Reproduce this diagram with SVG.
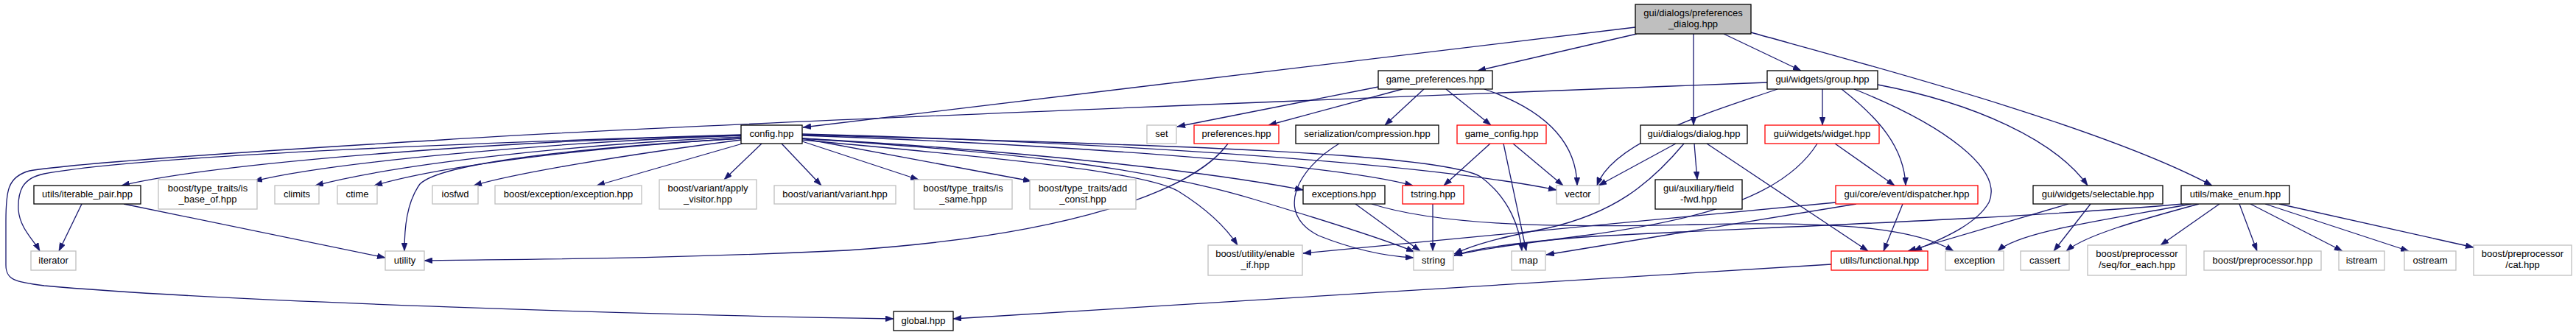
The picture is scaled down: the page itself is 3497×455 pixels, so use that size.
<svg xmlns="http://www.w3.org/2000/svg" width="3497" height="455" viewBox="0 0 3497 455">
<style>
.n rect{fill:#fff;stroke-width:1.3}
.b rect{stroke:#000}
.g rect{stroke:#bfbfbf}
.r rect{stroke:#ff0000}
.root rect{fill:#bfbfbf;stroke:#000}
text{font-family:"Liberation Sans",Arial,Helvetica,sans-serif;font-size:13px;fill:#000;text-anchor:middle}
#edges path{fill:none;stroke:#191970;stroke-width:1.3;marker-end:url(#ah)}
</style>
<defs>
<marker id="ah" viewBox="0 0 11 8" refX="11" refY="4" markerWidth="11" markerHeight="8" markerUnits="userSpaceOnUse" orient="auto"><path d="M0,0 L11,4 L0,8 z" fill="#191970" stroke="#191970" stroke-width="0.5"/></marker>
</defs>
<rect width="3497" height="455" fill="#fff"/>
<g id="edges">
<path d="M2220,37 L1090,173"/>
<path d="M2222,46 L2006,96"/>
<path d="M2299,46 L2299,170"/>
<path d="M2340,46 L2445,96"/>
<path d="M2377,44 C2520,84 2850,170 3003,252"/>
<path d="M1871,118 L1598,172"/>
<path d="M1904,121 L1722,170"/>
<path d="M1933,121 L1880,170"/>
<path d="M1963,121 L2024,170"/>
<path d="M2015,121 C2085,145 2140,185 2141,252"/>
<path d="M2399,112 C1800,135 900,170 600,190 C300,208 100,222 40,232 C10,240 8,260 8,300 L8,360 C8,380 20,383 60,388 C300,410 900,428 1213,433"/>
<path d="M1006,183 C700,192 200,210 60,236 C30,242 24,260 25,285 C27,310 45,325 54,341"/>
<path d="M2413,121 C2330,150 2190,190 2168,252"/>
<path d="M2474,121 L2474,170"/>
<path d="M2500,121 C2550,160 2585,200 2587,252"/>
<path d="M2517,121 C2640,170 2720,230 2700,275 C2680,310 2620,330 2598,341"/>
<path d="M2549,115 C2680,140 2790,190 2834,252"/>
<path d="M2275,195 L2170,252"/>
<path d="M2300,195 L2304,244"/>
<path d="M2317,195 L2536,341"/>
<path d="M2286,195 C2240,250 2190,290 2100,310 C2040,322 2000,332 1974,345"/>
<path d="M1034,195 L983,244"/>
<path d="M1061,195 L1115,252"/>
<path d="M1089,192 L1247,244"/>
<path d="M1089,188 L1400,246"/>
<path d="M1008,195 L810,252"/>
<path d="M1006,190 C850,210 700,235 643,252"/>
<path d="M1006,188 C800,200 600,225 508,252"/>
<path d="M1006,186 C800,195 550,220 428,252"/>
<path d="M1006,184 C750,193 450,220 345,246"/>
<path d="M1006,184 C700,190 300,220 165,252"/>
<path d="M1006,188 C800,200 600,220 570,250 C552,275 549,310 549,341"/>
<path d="M1089,182 C1400,190 1900,215 2113,258"/>
<path d="M1089,184 C1400,195 1800,220 1918,252"/>
<path d="M1089,183 C1500,195 1950,205 2010,240 C2050,270 2063,310 2066,341"/>
<path d="M1089,188 C1400,205 1650,235 1769,258"/>
<path d="M1089,188 C1350,205 1550,225 1700,270 C1800,300 1880,325 1920,342"/>
<path d="M1089,190 C1300,210 1550,230 1600,260 C1640,285 1665,310 1680,333"/>
<path d="M111,277 L80,341"/>
<path d="M168,277 L523,350"/>
<path d="M1667,195 C1620,260 1450,320 1150,340 C900,352 700,352 576,354"/>
<path d="M1818,195 C1760,230 1730,290 1790,320 C1840,340 1880,348 1919,350"/>
<path d="M1840,277 L1928,341"/>
<path d="M1862,277 C1950,305 2100,310 2300,305 C2500,300 2600,310 2652,341"/>
<path d="M1945,277 L1945,341"/>
<path d="M2023,195 L1960,252"/>
<path d="M2054,195 L2122,252"/>
<path d="M2041,195 L2072,341"/>
<path d="M2491,195 L2572,252"/>
<path d="M2467,195 C2420,270 2300,300 2150,320 C2050,333 2000,340 1974,347"/>
<path d="M2492,275 L1769,344"/>
<path d="M2520,277 L2099,346"/>
<path d="M2583,277 L2557,341"/>
<path d="M2808,277 L2590,341"/>
<path d="M2838,277 L2788,341"/>
<path d="M2486,359 L1294,433"/>
<path d="M2975,277 C2850,300 2740,315 2712,341"/>
<path d="M2985,277 C2900,300 2830,320 2805,341"/>
<path d="M3013,277 L2933,333"/>
<path d="M3040,277 L3064,341"/>
<path d="M3055,277 L3180,341"/>
<path d="M3075,277 L3270,341"/>
<path d="M3094,277 L3358,336"/>
<path d="M2964,277 C2700,300 2300,312 2150,322 C2050,330 2000,338 1974,347"/>
</g>
<g id="n_root" class="n root"><rect x="2220" y="6" width="157" height="40"/><text x="2298.5" y="22">gui/dialogs/preferences</text><text x="2298.5" y="37">_dialog.hpp</text></g>
<g id="n_game_preferences" class="n b"><rect x="1871" y="96" width="155" height="25"/><text x="1948.5" y="112">game_preferences.hpp</text></g>
<g id="n_group" class="n b"><rect x="2399" y="96" width="150" height="25"/><text x="2474" y="112">gui/widgets/group.hpp</text></g>
<g id="n_config" class="n b"><rect x="1006" y="170" width="83" height="25"/><text x="1047.5" y="186">config.hpp</text></g>
<g id="n_set" class="n g"><rect x="1557" y="170" width="40" height="25"/><text x="1577" y="186">set</text></g>
<g id="n_preferences" class="n r"><rect x="1621" y="170" width="115" height="25"/><text x="1678.5" y="186">preferences.hpp</text></g>
<g id="n_compression" class="n b"><rect x="1759" y="170" width="194" height="25"/><text x="1856" y="186">serialization/compression.hpp</text></g>
<g id="n_game_config" class="n r"><rect x="1978" y="170" width="121" height="25"/><text x="2038.5" y="186">game_config.hpp</text></g>
<g id="n_dialog" class="n b"><rect x="2227" y="170" width="145" height="25"/><text x="2299.5" y="186">gui/dialogs/dialog.hpp</text></g>
<g id="n_widget" class="n r"><rect x="2396" y="170" width="155" height="25"/><text x="2473.5" y="186">gui/widgets/widget.hpp</text></g>
<g id="n_iterable_pair" class="n b"><rect x="46" y="252" width="145" height="25"/><text x="118.5" y="268">utils/iterable_pair.hpp</text></g>
<g id="n_is_base_of" class="n g"><rect x="215" y="244" width="134" height="40"/><text x="282" y="260">boost/type_traits/is</text><text x="282" y="275">_base_of.hpp</text></g>
<g id="n_climits" class="n g"><rect x="373" y="252" width="60" height="25"/><text x="403" y="268">climits</text></g>
<g id="n_ctime" class="n g"><rect x="458" y="252" width="54" height="25"/><text x="485" y="268">ctime</text></g>
<g id="n_iosfwd" class="n g"><rect x="587" y="252" width="62" height="25"/><text x="618" y="268">iosfwd</text></g>
<g id="n_exc_exc" class="n g"><rect x="672" y="252" width="199" height="25"/><text x="771.5" y="268">boost/exception/exception.hpp</text></g>
<g id="n_apply_visitor" class="n g"><rect x="895" y="244" width="132" height="40"/><text x="961" y="260">boost/variant/apply</text><text x="961" y="275">_visitor.hpp</text></g>
<g id="n_variant" class="n g"><rect x="1051" y="252" width="165" height="25"/><text x="1133.5" y="268">boost/variant/variant.hpp</text></g>
<g id="n_is_same" class="n g"><rect x="1241" y="244" width="133" height="40"/><text x="1307.5" y="260">boost/type_traits/is</text><text x="1307.5" y="275">_same.hpp</text></g>
<g id="n_add_const" class="n g"><rect x="1398" y="244" width="144" height="40"/><text x="1470" y="260">boost/type_traits/add</text><text x="1470" y="275">_const.hpp</text></g>
<g id="n_exceptions" class="n b"><rect x="1769" y="252" width="111" height="25"/><text x="1824.5" y="268">exceptions.hpp</text></g>
<g id="n_tstring" class="n r"><rect x="1904" y="252" width="83" height="25"/><text x="1945.5" y="268">tstring.hpp</text></g>
<g id="n_vector" class="n g"><rect x="2113" y="252" width="58" height="25"/><text x="2142" y="268">vector</text></g>
<g id="n_field_fwd" class="n b"><rect x="2247" y="244" width="118" height="40"/><text x="2306" y="260">gui/auxiliary/field</text><text x="2306" y="275">-fwd.hpp</text></g>
<g id="n_dispatcher" class="n r"><rect x="2492" y="252" width="193" height="25"/><text x="2588.5" y="268">gui/core/event/dispatcher.hpp</text></g>
<g id="n_selectable" class="n b"><rect x="2760" y="252" width="176" height="25"/><text x="2848" y="268">gui/widgets/selectable.hpp</text></g>
<g id="n_make_enum" class="n b"><rect x="2961" y="252" width="147" height="25"/><text x="3034.5" y="268">utils/make_enum.hpp</text></g>
<g id="n_iterator" class="n g"><rect x="42" y="341" width="61" height="26"/><text x="72.5" y="358">iterator</text></g>
<g id="n_utility" class="n g"><rect x="523" y="341" width="53" height="26"/><text x="549.5" y="358">utility</text></g>
<g id="n_enable_if" class="n g"><rect x="1640" y="333" width="128" height="41"/><text x="1704" y="349">boost/utility/enable</text><text x="1704" y="364">_if.hpp</text></g>
<g id="n_string" class="n g"><rect x="1919" y="341" width="54" height="26"/><text x="1946" y="358">string</text></g>
<g id="n_map" class="n g"><rect x="2052" y="341" width="46" height="26"/><text x="2075" y="358">map</text></g>
<g id="n_functional" class="n r"><rect x="2486" y="341" width="131" height="26"/><text x="2551.5" y="358">utils/functional.hpp</text></g>
<g id="n_exception" class="n g"><rect x="2641" y="341" width="79" height="26"/><text x="2680.5" y="358">exception</text></g>
<g id="n_cassert" class="n g"><rect x="2743" y="341" width="66" height="26"/><text x="2776" y="358">cassert</text></g>
<g id="n_seq_for_each" class="n g"><rect x="2834" y="333" width="134" height="41"/><text x="2901" y="349">boost/preprocessor</text><text x="2901" y="364">/seq/for_each.hpp</text></g>
<g id="n_preprocessor" class="n g"><rect x="2992" y="341" width="159" height="26"/><text x="3071.5" y="358">boost/preprocessor.hpp</text></g>
<g id="n_istream" class="n g"><rect x="3175" y="341" width="62" height="26"/><text x="3206" y="358">istream</text></g>
<g id="n_ostream" class="n g"><rect x="3264" y="341" width="70" height="26"/><text x="3299" y="358">ostream</text></g>
<g id="n_cat" class="n g"><rect x="3358" y="333" width="133" height="41"/><text x="3424.5" y="349">boost/preprocessor</text><text x="3424.5" y="364">/cat.hpp</text></g>
<g id="n_global" class="n b"><rect x="1213" y="423" width="81" height="26"/><text x="1253.5" y="440">global.hpp</text></g>
</svg>
